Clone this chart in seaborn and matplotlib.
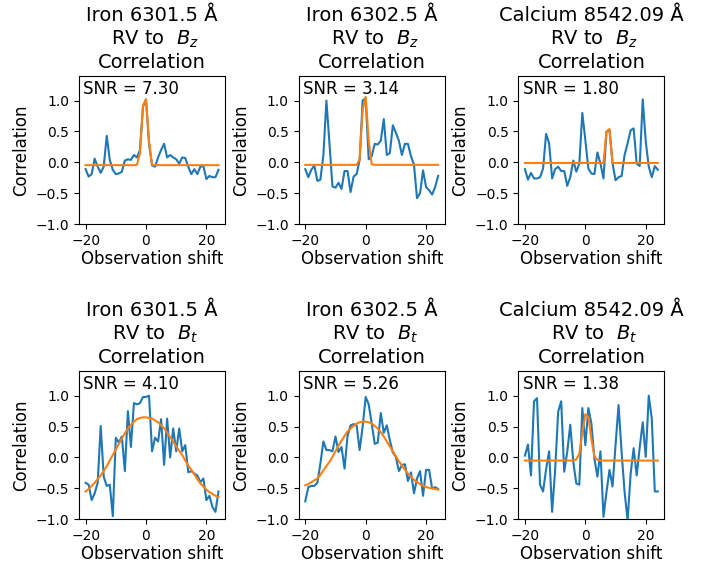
import matplotlib
matplotlib.use("Agg")
import matplotlib.pyplot as plt
import seaborn as sns

shift = list(range(-20, 25))

line_names = ["Iron 6301.5 Å", "Iron 6302.5 Å", "Calcium 8542.09 Å"]
components = ["$B_z$", "$B_t$"]
snr_values = [[7.30, 3.14, 1.80], [4.10, 5.26, 1.38]]

# measured correlation (blue)
fe1_bz = [-0.11, -0.23, -0.19, 0.06, -0.07, -0.17, -0.07, 0.43, 0.04, -0.12,
          -0.19, -0.18, -0.15, 0.03, 0.05, 0.04, 0.12, 0.08, 0.2, 0.9,
          1.02, 0.3, -0.05, -0.07, 0.08, 0.2, 0.3, 0.08, 0.12, 0.08,
          0.05, -0.02, 0.08, 0.07, -0.07, -0.19, -0.11, -0.19, -0.07, -0.06,
          -0.27, -0.22, -0.24, -0.24, -0.12]
fe2_bz = [-0.11, -0.24, -0.12, -0.05, -0.3, -0.28, 0.12, 1.0, 0.31, -0.39,
          -0.41, -0.33, -0.43, -0.14, -0.14, -0.48, -0.23, -0.19, 0.04, 1.0,
          1.04, 0.05, 0.1, 0.3, 0.29, 0.35, 0.7, 0.12, 0.15, 0.6,
          0.48, 0.35, 0.12, 0.3, 0.3, 0.1, -0.04, -0.58, -0.5, -0.13,
          -0.4, -0.45, -0.52, -0.4, -0.22]
ca_bz = [-0.11, -0.28, -0.17, -0.26, -0.26, -0.24, -0.1, 0.46, 0.31, -0.26,
         -0.11, -0.07, -0.14, -0.14, -0.38, -0.24, 0.03, -0.15, -0.02, 0.8,
         0.36, -0.1, -0.18, -0.19, 0.16, -0.02, -0.26, 0.5, 0.52, -0.01,
         -0.29, -0.24, -0.22, 0.12, 0.31, 0.52, 0.55, -0.02, -0.06, 1.02,
         0.34, -0.07, -0.24, -0.06, -0.12]
fe1_bt = [-0.41, -0.44, -0.69, -0.58, -0.41, 0.51, -0.31, -0.46, -0.44, -0.95,
          0.32, 0.24, 0.34, -0.22, 0.75, 0.17, 0.88, 0.86, 0.88, 0.98,
          0.98, 1.0, 0.1, 0.32, 0.26, 0.62, -0.12, 0.63, 0.0, 0.47,
          0.1, 0.47, 0.1, 0.2, -0.24, -0.22, -0.26, -0.29, -0.4, -0.34,
          -0.69, -0.62, -0.8, -0.88, -0.55]
fe2_bt = [-0.71, -0.48, -0.46, -0.46, -0.41, -0.1, 0.26, 0.12, 0.12, 0.1,
          0.34, 0.09, 0.17, -0.18, 0.35, 0.52, 0.54, 0.52, 0.12, 0.5,
          0.98, 0.86, 0.55, 0.22, 0.24, 0.72, 0.4, 0.52, 0.28, 0.08,
          0.01, -0.22, -0.12, -0.11, -0.38, -0.24, -0.58, -0.34, -0.22, -0.62,
          -0.2, -0.2, -0.5, -0.48, -0.51]
ca_bt = [0.03, 0.21, -0.29, 0.91, 0.96, -0.44, -0.55, -0.19, 0.1, -0.88,
         -0.2, 0.74, 0.91, -0.23, 0.09, 0.53, -0.07, -0.42, -0.44, 0.8,
         0.2, 0.8, 0.55, -0.02, -0.31, 0.1, -0.96, -0.56, -0.2, -0.47,
         0.2, 0.85, 0.09, -0.56, -1.02, -0.26, 0.15, -0.29, 0.16, 0.57,
         0.01, 1.0, 0.63, -0.55, -0.55]

# gaussian fits (orange)
fe1_bz_fit = [-0.045, -0.045, -0.045, -0.045, -0.045, -0.045, -0.045, -0.045, -0.045, -0.045,
              -0.045, -0.045, -0.045, -0.045, -0.045, -0.045, -0.045, -0.04, 0.15, 0.92,
              1.02, 0.35, -0.04, -0.045, -0.045, -0.045, -0.045, -0.045, -0.045, -0.045,
              -0.045, -0.045, -0.045, -0.045, -0.045, -0.045, -0.045, -0.045, -0.045, -0.045,
              -0.045, -0.045, -0.045, -0.045, -0.045]
fe2_bz_fit = [-0.04, -0.04, -0.04, -0.04, -0.04, -0.04, -0.04, -0.04, -0.04, -0.04,
              -0.04, -0.04, -0.04, -0.04, -0.04, -0.04, -0.04, -0.04, 0.05, 0.85,
              1.06, 0.35, -0.03, -0.04, -0.04, -0.04, -0.04, -0.04, -0.04, -0.04,
              -0.04, -0.04, -0.04, -0.04, -0.04, -0.04, -0.04, -0.04, -0.04, -0.04,
              -0.04, -0.04, -0.04, -0.04, -0.04]
ca_bz_fit = [-0.01, -0.01, -0.01, -0.01, -0.01, -0.01, -0.01, -0.01, -0.01, -0.01,
             -0.01, -0.01, -0.01, -0.01, -0.01, -0.01, -0.01, -0.01, -0.01, -0.01,
             -0.01, -0.01, -0.01, -0.01, -0.01, -0.01, -0.01, 0.5, 0.54, -0.01,
             -0.01, -0.01, -0.01, -0.01, -0.01, -0.01, -0.01, -0.01, -0.01, -0.01,
             -0.01, -0.01, -0.01, -0.01, -0.01]
fe1_bt_fit = [-0.55, -0.51, -0.46, -0.41, -0.35, -0.29, -0.22, -0.14, -0.05, 0.04,
              0.13, 0.22, 0.31, 0.39, 0.47, 0.53, 0.58, 0.62, 0.64, 0.65,
              0.65, 0.64, 0.63, 0.60, 0.57, 0.52, 0.47, 0.40, 0.33, 0.26,
              0.18, 0.11, 0.04, -0.05, -0.13, -0.20, -0.27, -0.35, -0.42, -0.47,
              -0.52, -0.56, -0.59, -0.62, -0.64]
fe2_bt_fit = [-0.45, -0.43, -0.40, -0.37, -0.34, -0.28, -0.21, -0.14, -0.07, 0.01,
              0.10, 0.19, 0.27, 0.35, 0.42, 0.47, 0.51, 0.55, 0.57, 0.58,
              0.58, 0.57, 0.55, 0.51, 0.47, 0.41, 0.34, 0.26, 0.18, 0.10,
              0.02, -0.06, -0.13, -0.20, -0.26, -0.31, -0.36, -0.40, -0.43, -0.46,
              -0.48, -0.49, -0.50, -0.51, -0.52]
ca_bt_fit = [-0.05, -0.05, -0.05, -0.05, -0.05, -0.05, -0.05, -0.05, -0.05, -0.05,
             -0.05, -0.05, -0.05, -0.05, -0.05, -0.05, -0.05, -0.03, 0.06, 0.4,
             0.7, 0.66, 0.3, 0.02, -0.04, -0.05, -0.05, -0.05, -0.05, -0.05,
             -0.05, -0.05, -0.05, -0.05, -0.05, -0.05, -0.05, -0.05, -0.05, -0.05,
             -0.05, -0.05, -0.05, -0.05, -0.05]

measured = [[fe1_bz, fe2_bz, ca_bz], [fe1_bt, fe2_bt, ca_bt]]
fits = [[fe1_bz_fit, fe2_bz_fit, ca_bz_fit], [fe1_bt_fit, fe2_bt_fit, ca_bt_fit]]

fig, axes = plt.subplots(2, 3, figsize=(7.05, 5.62), dpi=100)
plt.subplots_adjust(left=0.112, right=0.9425, bottom=0.076, top=0.865,
                     wspace=0.503, hspace=0.99)

for r in range(2):
    for c in range(3):
        ax = axes[r, c]
        sns.lineplot(x=shift, y=measured[r][c], ax=ax, color="C0")
        sns.lineplot(x=shift, y=fits[r][c], ax=ax, color="C1")
        ax.set_ylim(-1, 1.4)
        ax.set_yticks([-1.0, -0.5, 0.0, 0.5, 1.0])
        ax.set_xticks([-20, 0, 20])
        ax.set_title(f"{line_names[c]}\n RV to  {components[r]}\nCorrelation", fontsize=14)
        ax.set_xlabel("Observation shift", fontsize=12, labelpad=1.5)
        ax.set_ylabel("Correlation", fontsize=12)
        ax.text(0.03, 0.97, f"SNR = {snr_values[r][c]:.2f}", transform=ax.transAxes,
                fontsize=12, va="top", ha="left")

plt.savefig("out.png")
